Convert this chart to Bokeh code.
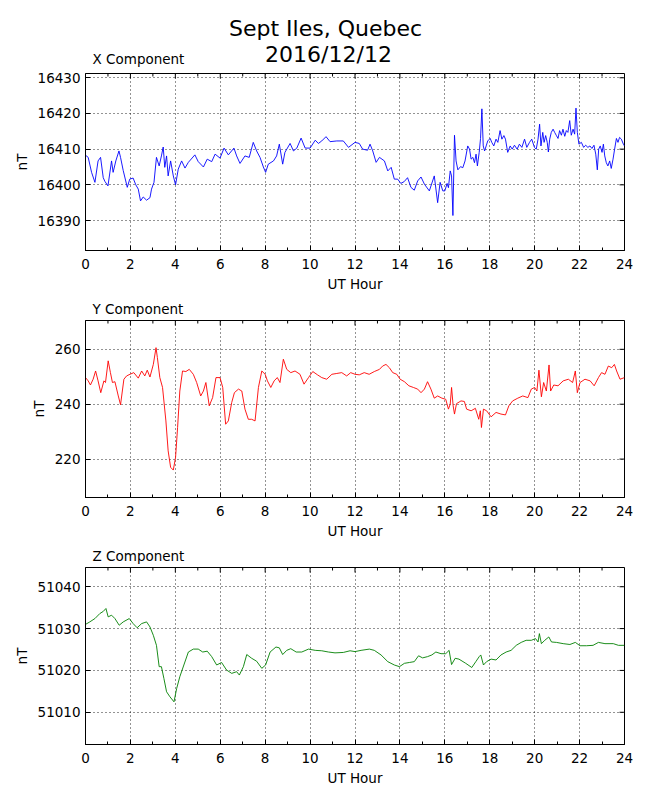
from bokeh.plotting import figure
from bokeh.models import (Range1d, FixedTicker, SingleIntervalTicker, Title)
from bokeh.core.properties import value
from bokeh.layouts import column
from bokeh.embed import file_html
from bokeh.resources import INLINE

# ---------------- data ----------------
MAIN_TITLE_1 = "Sept Iles, Quebec"
MAIN_TITLE_2 = "2016/12/12"
X_LABEL = "UT Hour"
Y_LABEL = "nT"
X_TICKS_INTERVAL = 2
X_MAJOR_TICKS = list(range(0, 25, 2))
X_MINOR_TICKS = list(range(1, 24, 2))

X_T = [0, 0.12, 0.27, 0.42, 0.56, 0.67, 0.79, 0.86, 1.0, 1.16,
       1.23, 1.35, 1.49, 1.56, 1.68, 1.86, 1.97, 2.12, 2.24, 2.35,
       2.45, 2.57, 2.72, 2.87, 2.94, 3.05, 3.16, 3.28, 3.38, 3.46,
       3.53, 3.61, 3.68, 3.79, 3.91, 4.01, 4.13, 4.28, 4.43, 4.58,
       4.87, 5.02, 5.25, 5.42, 5.62, 5.77, 5.99, 6.17, 6.36, 6.61,
       6.73, 6.88, 7.1, 7.29, 7.47, 7.62, 7.77, 7.92, 8.02, 8.14,
       8.37, 8.51, 8.63, 8.78, 8.88, 9.11, 9.26, 9.41, 9.6, 9.78,
       10.0, 10.23, 10.37, 10.52, 10.71, 10.89, 11.19, 11.48, 11.71, 12.0,
       12.19, 12.34, 12.56, 12.67, 12.79, 12.94, 13.09, 13.31, 13.46, 13.61,
       13.75, 13.9, 14.04, 14.19, 14.34, 14.49, 14.64, 14.79, 14.94, 15.09,
       15.31, 15.53, 15.68, 15.79, 15.91,
       16.0, 16.1, 16.16, 16.24, 16.3, 16.36, 16.43, 16.5, 16.58, 16.7,
       16.8, 16.9, 17.02, 17.1, 17.17, 17.25, 17.32, 17.39, 17.45, 17.53,
       17.59, 17.65, 17.71, 17.77, 17.84, 17.91, 18.02, 18.09, 18.18, 18.28,
       18.36, 18.46, 18.54, 18.63, 18.7, 18.8, 18.91, 19.0, 19.1, 19.22,
       19.32, 19.43, 19.55, 19.65, 19.77, 19.87, 19.99,
       20.07, 20.15, 20.22, 20.28, 20.36, 20.42, 20.49, 20.56, 20.61, 20.67,
       20.74, 20.82, 20.89, 20.96, 21.04, 21.11, 21.19, 21.26, 21.34, 21.41,
       21.48, 21.56, 21.63, 21.71, 21.78, 21.84, 21.9, 21.97, 22.08, 22.18,
       22.27, 22.37, 22.46, 22.55, 22.64, 22.72, 22.79, 22.85, 22.92, 23.0,
       23.06, 23.12, 23.19, 23.26, 23.34, 23.41, 23.49, 23.56, 23.64, 23.71,
       23.78, 23.86, 23.95, 24.0]
X_V = [16408.3, 16407.7, 16403.5, 16400.7, 16406.7, 16407.7, 16402.0, 16401.0, 16399.7, 16406.7,
       16403.5, 16406.7, 16409.5, 16407.7, 16404.0, 16399.3, 16401.6, 16401.9, 16400.0, 16398.8,
       16395.5, 16396.6, 16395.7, 16396.4, 16398.8, 16400.7, 16407.7, 16405.3, 16408.1, 16410.6,
       16404.9, 16408.1, 16402.5, 16406.7, 16402.5, 16400.0, 16404.4, 16406.7, 16404.7, 16406.3,
       16408.4, 16406.5, 16405.0, 16407.2, 16406.5, 16408.6, 16407.5, 16410.3, 16408.4, 16410.3,
       16408.1, 16406.0, 16408.1, 16407.7, 16411.9, 16409.5, 16407.7, 16405.0, 16403.5, 16405.8,
       16406.7, 16408.1, 16411.4, 16405.8, 16409.1, 16411.6, 16409.5, 16410.3, 16413.1, 16410.3,
       16410.3, 16412.5, 16411.6, 16412.3, 16413.5, 16412.1, 16412.3, 16412.3, 16410.5, 16411.9,
       16411.6, 16410.0, 16409.7, 16411.4, 16409.5, 16406.3, 16407.7, 16406.7, 16403.9, 16404.9,
       16401.6, 16401.6, 16400.4, 16400.9, 16402.0, 16399.3, 16398.5, 16401.1, 16402.2, 16400.2,
       16398.3, 16402.5, 16395.0, 16400.7, 16398.3,
       16398.3, 16400.4, 16399.2, 16403.9, 16402.5, 16391.4, 16413.9, 16406.7, 16404.2, 16405.1,
       16404.8, 16406.7, 16410.9, 16410.0, 16407.2, 16407.7, 16406.2, 16408.6, 16405.3, 16409.1,
       16413.0, 16421.3, 16410.9, 16409.5, 16410.9, 16412.3, 16413.0, 16411.9, 16410.9, 16412.8,
       16411.9, 16415.2, 16412.8, 16413.8, 16412.8, 16409.1, 16410.9, 16410.0, 16411.1, 16410.0,
       16411.4, 16410.5, 16412.8, 16410.5, 16411.9, 16412.8, 16410.5,
       16410.0, 16412.8, 16417.0, 16410.9, 16414.7, 16411.9, 16413.8, 16411.9, 16409.2, 16412.8,
       16414.7, 16415.6, 16414.7, 16413.9, 16413.0, 16415.2, 16413.9, 16415.6, 16413.6, 16415.2,
       16414.7, 16418.0, 16413.9, 16415.6, 16414.2, 16421.5, 16414.7, 16411.4, 16411.9, 16410.5,
       16411.1, 16410.5, 16410.9, 16410.2, 16411.1, 16408.6, 16404.2, 16410.0, 16410.9, 16409.1,
       16411.4, 16408.1, 16406.2, 16405.3, 16406.7, 16404.6, 16407.2, 16410.0, 16413.0, 16411.9,
       16413.3, 16412.8, 16411.4, 16410.9]

Y_T = [0, 0.12, 0.22, 0.34, 0.45, 0.56, 0.68, 0.82, 0.89, 1.01,
       1.11, 1.2, 1.31, 1.46, 1.56, 1.71, 1.83, 1.98, 2.15, 2.35,
       2.5, 2.64, 2.75, 2.87, 3.02, 3.14, 3.2, 3.31, 3.43, 3.58,
       3.68, 3.79, 3.91, 4.01, 4.1, 4.2, 4.32, 4.47, 4.62, 4.8,
       4.95, 5.13, 5.25, 5.36, 5.51, 5.66, 5.81, 5.99, 6.11, 6.24,
       6.36, 6.51, 6.63, 6.81, 6.96, 7.1, 7.25, 7.4, 7.55, 7.7,
       7.85, 8.0, 8.1, 8.25, 8.4, 8.54, 8.66, 8.81, 8.96, 9.14,
       9.33, 9.55, 9.73, 9.93, 10.12, 10.33, 10.52, 10.74, 10.97, 11.19,
       11.41, 11.63, 11.81, 12.0, 12.19, 12.41, 12.63, 12.86, 13.09, 13.23,
       13.38, 13.53, 13.68, 13.86, 14.01, 14.2, 14.4, 14.6, 14.79, 14.94,
       15.09, 15.23, 15.38, 15.53, 15.68, 15.87, 16.04, 16.16, 16.24, 16.3,
       16.37, 16.43, 16.52, 16.72, 16.87, 16.97, 17.17, 17.36, 17.51, 17.58,
       17.63, 17.72, 17.86, 18.06, 18.28, 18.5, 18.7, 18.85, 19.02, 19.25,
       19.47, 19.7, 19.85, 20.0, 20.1, 20.19, 20.3, 20.4, 20.52, 20.64,
       20.71, 20.85, 21.04, 21.27, 21.5, 21.69, 21.81, 21.9, 22.02, 22.24,
       22.47, 22.65, 22.84, 22.98, 23.13, 23.28, 23.43, 23.55, 23.65, 23.8,
       24.0]
Y_V = [249.7, 248.5, 247.0, 249.1, 252.1, 248.5, 244.2, 248.5, 247.9, 255.8,
       251.5, 247.9, 248.2, 243.0, 239.8, 249.1, 250.3, 250.9, 251.5, 249.5,
       252.1, 250.3, 252.4, 249.9, 254.5, 260.6, 257.0, 249.7, 246.1, 233.9,
       223.0, 217.0, 216.0, 220.6, 231.5, 244.8, 252.1, 251.9, 252.7, 250.9,
       247.9, 243.0, 244.8, 247.9, 239.4, 242.4, 249.7, 249.7, 246.1, 232.7,
       233.9, 240.6, 244.2, 245.5, 244.8, 238.2, 234.5, 234.5, 233.9, 246.1,
       252.1, 250.9, 248.5, 246.1, 248.5, 249.7, 247.9, 256.4, 252.7, 251.5,
       252.1, 250.9, 247.3, 249.7, 251.9, 250.7, 249.7, 249.1, 250.9, 251.2,
       251.5, 250.3, 251.5, 250.9, 250.7, 251.5, 250.9, 251.9, 252.7, 253.9,
       254.5, 253.3, 251.5, 250.9, 249.1, 248.2, 246.7, 246.1, 245.5, 244.2,
       245.5, 248.2, 245.5, 242.2, 243.0, 242.2, 241.8, 238.2, 240.0, 246.1,
       239.4, 236.4, 240.2, 241.2, 241.0, 238.2, 237.6, 238.5, 234.5, 237.6,
       231.5, 238.2, 237.6, 235.4, 237.0, 236.4, 236.1, 239.4, 241.2, 242.2,
       243.0, 242.4, 245.5, 246.1, 244.8, 252.4, 242.7, 247.9, 244.8, 254.3,
       244.8, 247.0, 246.7, 248.5, 249.1, 247.9, 252.1, 244.2, 247.9, 249.1,
       248.5, 246.7, 249.7, 251.5, 250.9, 253.9, 253.3, 254.5, 252.1, 249.1,
       249.7]

Z_T = [0, 0.19, 0.42, 0.64, 0.79, 0.91, 1.01, 1.16, 1.31, 1.5,
       1.68, 1.95, 2.12, 2.3, 2.5, 2.72, 2.87, 3.02, 3.16, 3.28,
       3.38, 3.49, 3.61, 3.76, 3.94, 4.06, 4.2, 4.38, 4.58, 4.8,
       5.02, 5.22, 5.42, 5.62, 5.84, 6.06, 6.28, 6.51, 6.73, 6.85,
       7.03, 7.18, 7.4, 7.62, 7.85, 8.02, 8.22, 8.48, 8.63, 8.78,
       8.96, 9.14, 9.38, 9.63, 9.93, 10.23, 10.52, 10.82, 11.11, 11.48,
       11.78, 12.0, 12.27, 12.64, 12.86, 13.16, 13.46, 13.75, 13.98, 14.2,
       14.42, 14.64, 14.83, 15.01, 15.23, 15.42, 15.6, 15.83, 16.04, 16.19,
       16.3, 16.46, 16.63, 16.93, 17.2, 17.38, 17.53, 17.6, 17.72, 17.86,
       18.06, 18.28, 18.5, 18.73, 18.95, 19.18, 19.4, 19.62, 19.85, 20.04,
       20.15, 20.21, 20.3, 20.45, 20.63, 20.75, 20.97, 21.27, 21.57, 21.81,
       22.02, 22.31, 22.6, 22.84, 23.13, 23.5, 23.73, 24.0]
Z_V = [51031.0, 51031.6, 51032.4, 51033.6, 51034.1, 51034.8, 51032.8, 51033.2, 51032.4, 51030.8,
       51031.6, 51032.4, 51031.2, 51030.2, 51031.2, 51031.6, 51030.4, 51028.4, 51026.0, 51020.9,
       51020.9, 51018.1, 51014.9, 51013.7, 51012.5, 51015.7, 51018.5, 51021.3, 51024.4, 51025.1,
       51025.1, 51024.4, 51024.6, 51023.3, 51021.3, 51021.9, 51020.1, 51019.3, 51019.7, 51018.9,
       51020.9, 51023.8, 51022.9, 51022.2, 51020.5, 51021.3, 51024.4, 51025.6, 51025.4, 51023.8,
       51024.8, 51025.2, 51024.4, 51024.4, 51025.1, 51024.8, 51024.7, 51024.4, 51024.2, 51024.3,
       51024.7, 51024.5, 51024.8, 51025.1, 51024.8, 51023.7, 51022.1, 51021.3, 51020.9, 51021.7,
       51021.9, 51022.1, 51023.5, 51023.0, 51023.3, 51023.7, 51024.4, 51024.0, 51024.0, 51024.8,
       51021.4, 51022.9, 51022.7, 51021.7, 51020.7, 51022.1, 51023.3, 51023.7, 51021.3, 51022.1,
       51022.7, 51022.5, 51023.7, 51024.4, 51024.8, 51026.0, 51026.7, 51027.2, 51027.2, 51027.6,
       51026.8, 51028.8, 51026.4, 51027.2, 51028.0, 51026.8, 51026.7, 51026.4, 51026.2, 51026.7,
       51025.9, 51025.9, 51026.0, 51026.7, 51026.4, 51026.4, 51026.0, 51026.0]

X_RANGE = (16381.6, 16431.2)
Y_RANGE = (206.0, 270.5)
Z_RANGE = (51002.3, 51044.6)
X_YTICKS = [16390, 16400, 16410, 16420, 16430]
Y_YTICKS = [220, 240, 260]
Z_YTICKS = [51010, 51020, 51030, 51040]

PANELS = [
    ("X Component", X_T, X_V, "#0000ff", X_RANGE, X_YTICKS),
    ("Y Component", Y_T, Y_V, "#ff0000", Y_RANGE, Y_YTICKS),
    ("Z Component", Z_T, Z_V, "#008000", Z_RANGE, Z_YTICKS),
]

# ---------------- styling ----------------
FONT = "DejaVu Sans"
FS = "13.5px"
FRAME_W, FRAME_H = 539, 177
LEFT, RIGHT = 85, 26
FIRST_TOP = 6
HEADER_H = 73 - FIRST_TOP
TEXT_SHIFT = -6.5   # correction of the header text glyph vertical placement
MAJOR_LEN, MINOR_LEN = 5, 3   # inward tick lengths, px


def style_axis(ax):
    ax.axis_line_color = "black"
    ax.axis_line_width = 1
    ax.major_tick_line_color = "black"
    ax.minor_tick_line_color = "black"
    ax.major_tick_in = MAJOR_LEN
    ax.major_tick_out = 0
    ax.minor_tick_in = MINOR_LEN
    ax.minor_tick_out = 0
    ax.major_label_text_font = FONT
    ax.major_label_text_color = "black"
    ax.major_label_text_font_size = FS
    ax.axis_label_text_font = FONT
    ax.axis_label_text_font_size = FS
    ax.axis_label_text_font_style = "normal"
    ax.axis_label_text_color = "black"


def make_panel(title, t, v, color, yr, yticks, top_border, bottom_border, with_title):
    p = figure(frame_width=FRAME_W, frame_height=FRAME_H,
               x_range=Range1d(0, 24), y_range=Range1d(*yr),
               output_backend="svg", toolbar_location=None,
               min_border_left=LEFT, min_border_right=RIGHT,
               min_border_top=top_border, min_border_bottom=bottom_border,
               x_axis_label=X_LABEL, y_axis_label=Y_LABEL)
    p.background_fill_color = "white"
    p.border_fill_color = "white"
    p.outline_line_color = "black"
    p.outline_line_width = 1

    xt = SingleIntervalTicker(interval=X_TICKS_INTERVAL, num_minor_ticks=2)
    yt = FixedTicker(ticks=yticks, minor_ticks=[])

    p.xaxis.ticker = xt
    p.yaxis.ticker = yt
    for ax in p.xaxis:
        style_axis(ax)
        ax.major_label_standoff = 8
        ax.axis_label_standoff = 4
    for ax in p.yaxis:
        style_axis(ax)
        ax.major_label_standoff = 5
        ax.axis_label_standoff = 5

    p.xgrid.ticker = xt
    p.ygrid.ticker = yt
    for g in (p.xgrid, p.ygrid):
        g.grid_line_color = "black"
        g.grid_line_dash = "1 3"
        g.grid_line_width = 1
        g.grid_line_alpha = 0.85

    # inward ticks on the top and right edges (mirroring the bottom/left axes)
    y_per_px = (yr[1] - yr[0]) / FRAME_H
    x_per_px = 24.0 / FRAME_W
    p.segment(x0=X_MAJOR_TICKS, x1=X_MAJOR_TICKS,
              y0=[yr[1]] * len(X_MAJOR_TICKS),
              y1=[yr[1] - MAJOR_LEN * y_per_px] * len(X_MAJOR_TICKS),
              line_color="black", line_width=1)
    p.segment(x0=X_MINOR_TICKS, x1=X_MINOR_TICKS,
              y0=[yr[1]] * len(X_MINOR_TICKS),
              y1=[yr[1] - MINOR_LEN * y_per_px] * len(X_MINOR_TICKS),
              line_color="black", line_width=1)
    p.segment(x0=[24.0] * len(yticks), x1=[24.0 - MAJOR_LEN * x_per_px] * len(yticks),
              y0=yticks, y1=yticks, line_color="black", line_width=1)

    p.line(t, v, line_color=color, line_width=0.9)

    if with_title:
        p.add_layout(Title(text=title, align="left", offset=7, standoff=8,
                           text_font=FONT, text_font_size=FS,
                           text_font_style="normal", text_color="black"), "above")
    return p


# header: main title and the first panel's title, as text in page pixels
header = figure(frame_width=FRAME_W, frame_height=HEADER_H,
                x_range=Range1d(LEFT, LEFT + FRAME_W), y_range=Range1d(HEADER_H, 0),
                output_backend="svg", toolbar_location=None,
                x_axis_location=None, y_axis_location=None,
                min_border_left=LEFT, min_border_right=RIGHT,
                min_border_top=0, min_border_bottom=0)
header.outline_line_color = None
header.xgrid.visible = False
header.ygrid.visible = False
header.background_fill_color = "white"
header.border_fill_color = "white"
header.text(x=[325, 328], y=[34.3 + TEXT_SHIFT, 60.7 + TEXT_SHIFT],
            text=[MAIN_TITLE_1, MAIN_TITLE_2],
            text_font=value(FONT), text_font_size=value("22px"),
            text_align="center", text_baseline="alphabetic", text_color="black")
header.text(x=[LEFT + 7], y=[65.0 + TEXT_SHIFT], text=[PANELS[0][0]],
            text_font=value(FONT), text_font_size=value(FS),
            text_align="left", text_baseline="alphabetic", text_color="black")

figs = [header]
for i, (title, t, v, color, yr, yticks) in enumerate(PANELS):
    figs.append(make_panel(title, t, v, color, yr, yticks,
                           FIRST_TOP if i == 0 else 26, 44, i != 0))

layout = column(*figs, spacing=0)
open("out.html", "w").write(file_html(layout, INLINE))
